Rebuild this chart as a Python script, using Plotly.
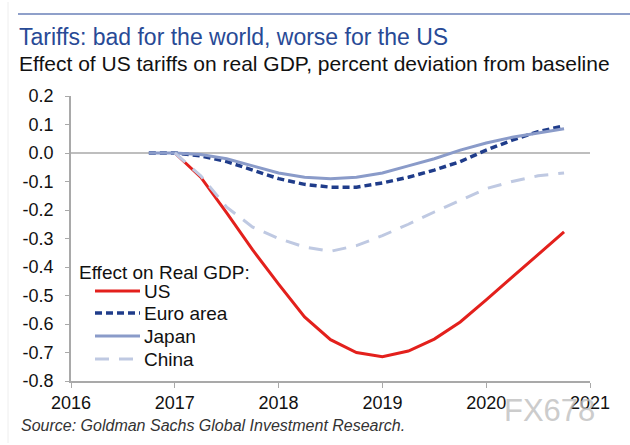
import plotly.graph_objects as go

quarters_a = [2016.75, 2017.0, 2017.25, 2017.5, 2017.75, 2018.0, 2018.25, 2018.5, 2018.75,
              2019.0, 2019.25, 2019.5, 2019.75, 2020.0, 2020.25, 2020.5, 2020.75]
quarters_b = quarters_a[1:]

us = [0.0, -0.085, -0.21, -0.34, -0.46, -0.575, -0.655, -0.70, -0.715, -0.695, -0.653,
      -0.593, -0.515, -0.435, -0.355, -0.277]
euro = [0.0, 0.0, -0.01, -0.03, -0.06, -0.09, -0.11, -0.12, -0.12, -0.105, -0.085,
        -0.06, -0.03, 0.01, 0.045, 0.075, 0.095]
japan = [0.0, 0.0, -0.005, -0.02, -0.045, -0.07, -0.085, -0.09, -0.085, -0.07, -0.045,
         -0.02, 0.01, 0.035, 0.055, 0.07, 0.085]
china = [0.0, -0.08, -0.19, -0.26, -0.30, -0.33, -0.345, -0.325, -0.29, -0.25, -0.207,
         -0.165, -0.125, -0.10, -0.08, -0.07]

year_ticks = [2016, 2017, 2018, 2019, 2020, 2021]
y_ticks = [0.2, 0.1, 0.0, -0.1, -0.2, -0.3, -0.4, -0.5, -0.6, -0.7, -0.8]

series = [
    ("US", quarters_b, us, "#E3201C", "solid", 3),
    ("Euro area", quarters_a, euro, "#1F3C8A", "7px,4px", 3.5),
    ("Japan", quarters_a, japan, "#8A9BC9", "solid", 3),
    ("China", quarters_b, china, "#BFC9E2", "14px,10px", 3),
]

FONT = "Arial, Liberation Sans, sans-serif"
W, H = 630, 445
L, R, T, B = 71, 40, 96, 64
PW, PH = W - L - R, H - T - B

def fx(p):
    return (p - L) / PW

def fy(p):
    return (H - B - p) / PH

fig = go.Figure()
for name, xs, ys, col, dash, w in series:
    fig.add_trace(go.Scatter(x=xs, y=ys, mode="lines", name=name, showlegend=False,
                             line=dict(color=col, dash=dash, width=w)))

shapes = [
    dict(type="line", xref="paper", yref="y", x0=0, x1=1, y0=0, y1=0,
         line=dict(color="#A9A9A9", width=1.5), layer="below"),
    dict(type="line", xref="paper", yref="paper", x0=fx(18), x1=fx(W), y0=fy(14), y1=fy(14),
         line=dict(color="#8FA0CA", width=2)),
    dict(type="line", xref="paper", yref="paper", x0=fx(8), x1=fx(8), y0=fy(2), y1=fy(H - 2),
         line=dict(color="#EEEEEE", width=1)),
]

annotations = [
    dict(text="Tariffs: bad for the world, worse for the US", xref="paper", yref="paper",
         x=fx(17), y=fy(37), xanchor="left", yanchor="middle",
         showarrow=False, font=dict(family=FONT, size=23, color="#284A96")),
    dict(text="Effect of US tariffs on real GDP, percent deviation from baseline", xref="paper", yref="paper",
         x=fx(17), y=fy(63), xanchor="left", yanchor="middle",
         showarrow=False, font=dict(family=FONT, size=21, color="#111111")),
    dict(text="<i>Source: Goldman Sachs Global Investment Research.</i>", xref="paper", yref="paper",
         x=fx(19), y=fy(425), xanchor="left", yanchor="middle",
         showarrow=False, font=dict(family=FONT, size=16, color="#333333")),
    dict(text="Effect on Real GDP:", xref="paper", yref="paper",
         x=fx(77), y=fy(272), xanchor="left", yanchor="middle",
         showarrow=False, font=dict(family=FONT, size=19, color="#111111")),
    dict(text="FX678", xref="paper", yref="paper",
         x=fx(502), y=fy(410), xanchor="left", yanchor="middle",
         showarrow=False, font=dict(family=FONT, size=31, color="rgba(190,190,190,0.8)")),
]

leg_y = [291, 313, 336, 359]
for (name, xs, ys, col, dash, w), yy in zip(series, leg_y):
    shapes.append(dict(type="line", xref="paper", yref="paper",
                       x0=fx(95), x1=fx(140), y0=fy(yy), y1=fy(yy),
                       line=dict(color=col, dash=dash, width=w)))
    annotations.append(dict(text=name, xref="paper", yref="paper", x=fx(142), y=fy(yy),
                            xanchor="left", yanchor="middle", showarrow=False,
                            font=dict(family=FONT, size=19, color="#111111")))

fig.update_layout(
    width=W, height=H,
    margin=dict(l=L, r=R, t=T, b=B),
    paper_bgcolor="white", plot_bgcolor="white",
    font=dict(family=FONT, size=18, color="#111111"),
    xaxis=dict(range=[2016, 2021], tickvals=year_ticks, ticktext=[str(v) for v in year_ticks],
               showgrid=False, zeroline=False, showline=True, linecolor="#A9A9A9", linewidth=1.5,
               ticks="outside", ticklen=5, tickcolor="#A9A9A9", tickfont=dict(size=18)),
    yaxis=dict(range=[-0.8, 0.2], tickvals=y_ticks, ticktext=[f"{v:.1f}" for v in y_ticks],
               showgrid=False, zeroline=False, showline=True, linecolor="#A9A9A9", linewidth=1.5,
               ticks="outside", ticklen=4, tickcolor="#A9A9A9", tickfont=dict(size=18),
               ticklabelstandoff=8),
    shapes=shapes, annotations=annotations,
)

fig.write_html("out.html")
